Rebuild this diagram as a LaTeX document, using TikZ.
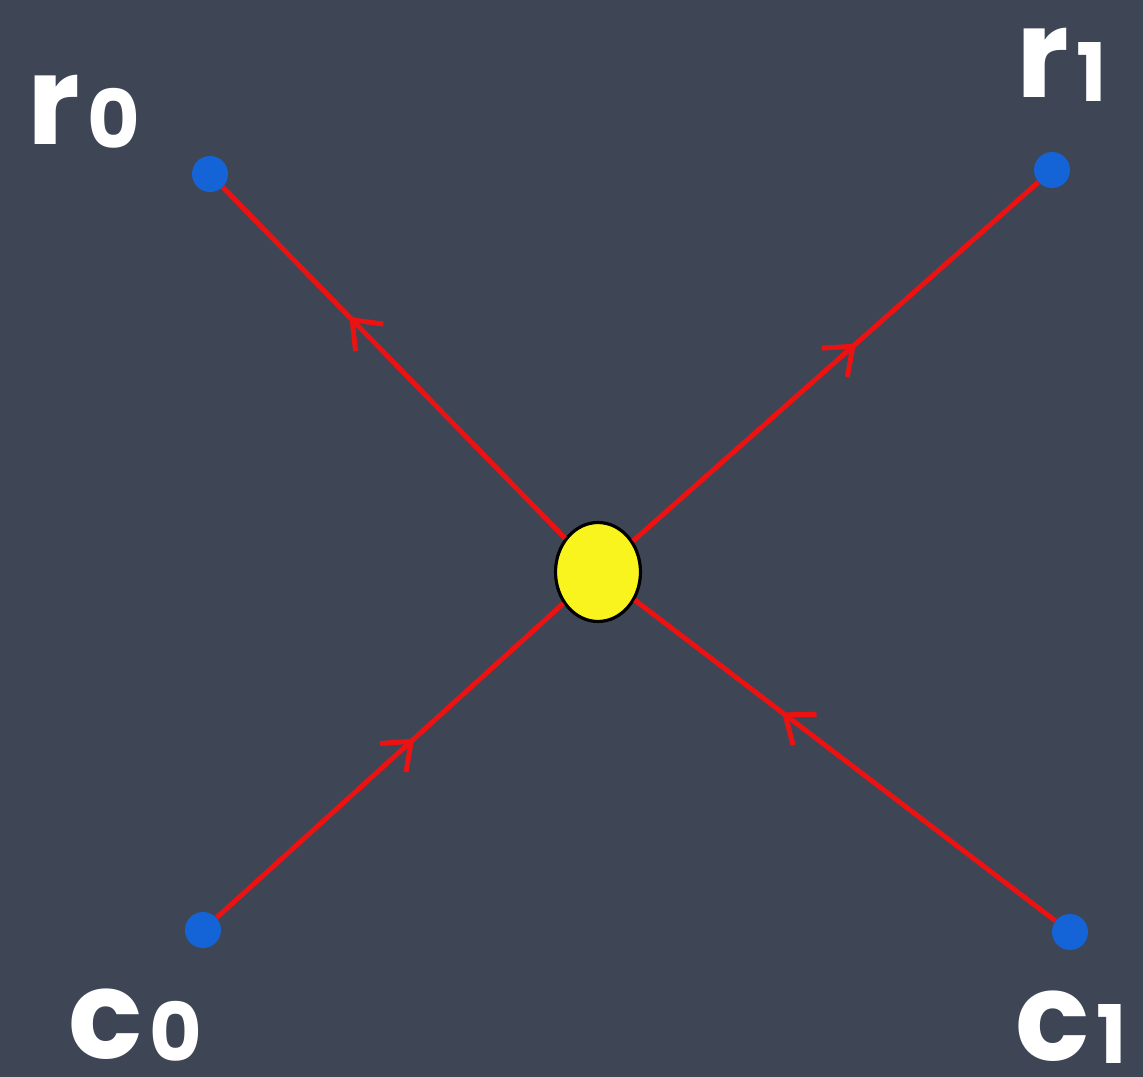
\documentclass[tikz,border=0pt]{standalone}
\usepackage{fontspec}
\setsansfont{Poppins}
\usepackage{xcolor}
\usepackage{tikz}
\usetikzlibrary{positioning,shapes.geometric,arrows.meta,decorations.markings}

\definecolor{slate}{RGB}{62,70,86}
\definecolor{dotblue}{RGB}{20,100,215}
\definecolor{wirered}{RGB}{236,18,18}
\definecolor{hubyellow}{RGB}{250,244,30}

\newcommand{\sublbl}[1]{\kern4pt{\fontsize{46}{46}\selectfont\raisebox{-2pt}{#1}}}

\begin{document}
\begin{tikzpicture}[
  x=0.02cm, y=-0.02cm,
  dot/.style={circle, fill=dotblue, inner sep=0pt, minimum size=0.72cm},
  hub/.style={ellipse, draw=black, line width=1.8pt, fill=hubyellow,
              inner sep=0pt, minimum width=1.7cm, minimum height=1.98cm},
  wire/.style={draw=wirered, line width=2.8pt},
  flow/.style={decoration={markings, mark=at position #1 with
               {\arrow[wirered]{Straight Barb[length=14pt, width=22pt, line width=2.8pt]}}},
               postaction={decorate}},
  lbl/.style={anchor=base west, inner sep=0pt, text=white,
              text height=38pt, text depth=2pt,
              font=\fontsize{70}{70}\selectfont\sffamily\bfseries}
]
\fill[slate] (0,0) rectangle (1143,1077);

\node[hub] (mid) at (598,572) {};
\node[dot] (r0) at (210,174) {};
\node[dot] (r1) at (1052,170) {};
\node[dot] (c0) at (203,930) {};
\node[dot] (c1) at (1070,932) {};

\draw[wire, flow=0.63] (mid) -- (r0);
\draw[wire, flow=0.55] (mid) -- (r1);
\draw[wire, flow=0.57] (c0) -- (mid);
\draw[wire, flow=0.65] (c1) -- (mid);

\node[lbl] (r0lbl) at (27,145) {r\sublbl{0}};
\node[lbl] (r1lbl) at (1016,98) {r\sublbl{1}};
\node[lbl] (c0lbl) at (68,1058) {c\sublbl{0}};
\node[lbl] (c1lbl) at (1015,1060) {c\sublbl{1}};
\end{tikzpicture}
\end{document}
